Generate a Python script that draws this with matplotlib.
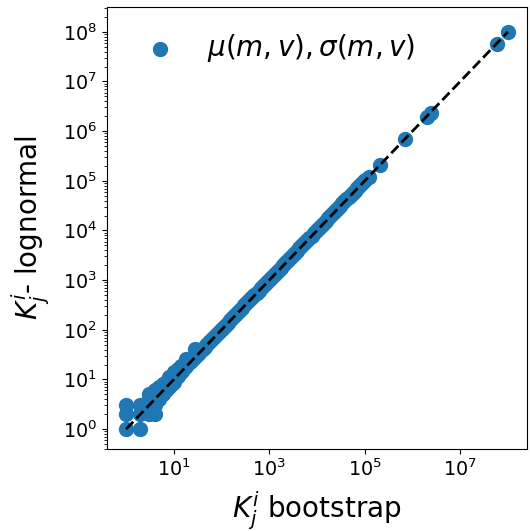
import matplotlib
matplotlib.use("Agg")
import matplotlib.pyplot as plt
from matplotlib.ticker import LogLocator

# K_j^i from bootstrap (x) vs lognormal fit (y)
k_boot = [1, 1, 1, 2, 2, 2, 3, 3, 3, 3, 4, 4, 4, 4, 4,
          5, 5, 5, 5, 6, 6, 6, 7, 7, 7, 8, 8, 8, 9, 9, 9,
          10, 10, 10, 11, 12, 12, 13, 14, 14, 15, 16, 17, 18, 18,
          20, 22, 24, 26, 28, 30, 33, 36, 40, 44, 48,
          53, 58, 64, 70, 77, 85, 93, 102, 112, 123, 135, 150, 165,
          180, 200, 220, 245, 270, 300, 330, 365, 400, 440, 490,
          540, 600, 660, 730, 800, 880, 970, 1070, 1180, 1300, 1430,
          1580, 1740, 1920, 2120, 2340, 2580, 2850, 3150, 3480, 3840,
          4240, 4680, 5170, 5700, 6300, 6950, 7680, 8480, 9360, 10300,
          11400, 12600, 13900, 15400, 17000, 18800, 20700, 22900, 25300,
          27900, 30800, 34000, 37600, 41500, 45800, 50600, 55900, 61700,
          68100, 75200, 83000, 91700, 101000, 120000, 210000, 700000,
          2000000, 2400000, 60000000, 100000000]
k_lognormal = [1, 2, 3, 1, 2, 3, 2, 3, 4, 5, 2, 3, 4, 5, 6,
               4, 5, 6, 7, 5, 6, 8, 6, 7, 9, 7, 8, 11, 8, 9, 12,
               9, 10, 14, 11, 12, 16, 13, 14, 19, 15, 17, 18, 19, 26,
               21, 23, 25, 27, 42, 31, 34, 38, 42, 46, 50,
               55, 60, 66, 72, 80, 88, 96, 105, 116, 127, 140, 155, 170,
               186, 206, 227, 252, 278, 309, 340, 376, 412, 453, 504,
               556, 618, 680, 752, 824, 906, 999, 1100, 1215, 1340, 1470,
               1625, 1790, 1975, 2180, 2405, 2650, 2930, 3240, 3580, 3950,
               4360, 4810, 5310, 5860, 6480, 7150, 7900, 8720, 9630, 10600,
               11700, 12950, 14300, 15850, 17500, 19350, 21300, 23550, 26000,
               28700, 31700, 35000, 38700, 42700, 47100, 52100, 57500, 63500,
               70100, 77400, 85400, 94400, 104000, 118000, 205000, 690000,
               1950000, 2300000, 58000000, 97000000]

plt.rcParams['font.size'] = 13.75

fig = plt.figure(figsize=(5.30, 5.31), dpi=100)
ax = fig.add_axes([107 / 530, 82 / 531, 420 / 530, 442 / 531])

ax.scatter(k_boot, k_lognormal, s=100, color='#1f77b4',
           label=r'$\mu(m,v),\sigma(m,v)$', zorder=2)
ax.plot([1, 1e8], [1, 1e8], 'k--', lw=2, zorder=3)

ax.set_xscale('log')
ax.set_yscale('log')
ax.set_xlim(10 ** -0.4, 10 ** 8.4)
ax.set_ylim(10 ** -0.4, 10 ** 8.5)
ax.yaxis.set_major_locator(LogLocator(base=10, numticks=20))

ax.set_xlabel(r'$K_j^i$ bootstrap', fontsize=20, labelpad=7)
ax.set_ylabel(r'$K_j^i$- lognormal', fontsize=20, labelpad=8)

ax.legend(loc='upper left', frameon=False, fontsize=20,
          borderaxespad=0.5, handletextpad=0.7)

fig.savefig('out.png', dpi=100)
